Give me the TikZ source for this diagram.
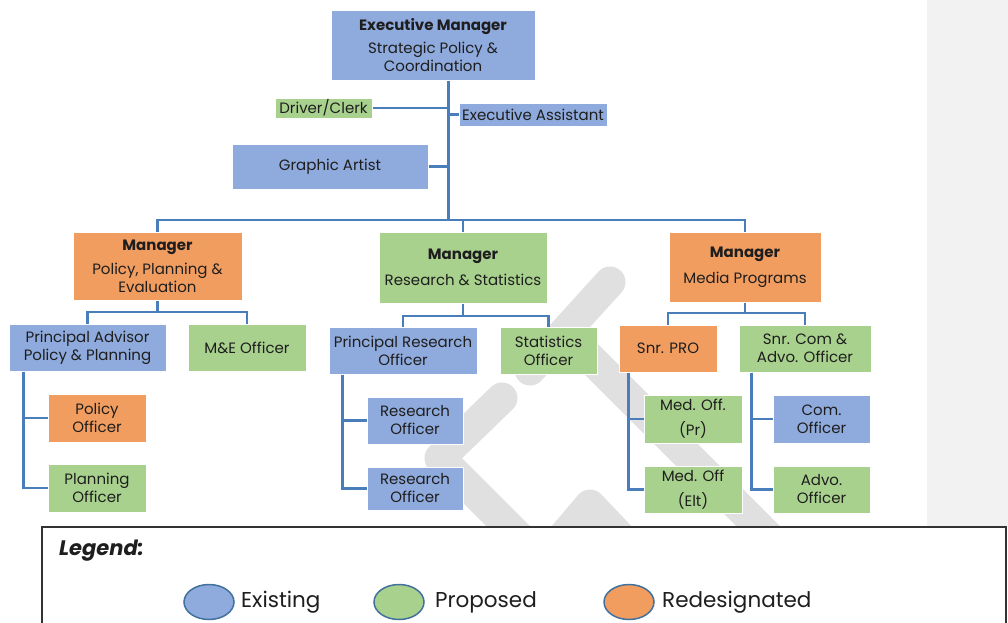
\documentclass[tikz,border=0pt]{standalone}
\usepackage{fontspec}
\setmainfont{Poppins}
\usetikzlibrary{shapes.geometric}

\definecolor{exist}{RGB}{143,170,220}
\definecolor{propo}{RGB}{169,209,142}
\definecolor{redes}{RGB}{241,157,96}
\definecolor{wireblue}{RGB}{74,126,187}
\definecolor{ink}{RGB}{30,30,30}
\definecolor{wmgrey}{RGB}{224,224,224}
\definecolor{panelgrey}{RGB}{242,242,242}
\definecolor{rim}{RGB}{65,113,156}

\tikzset{
  orgbox/.style={draw=white, line width=1pt, inner sep=0pt, align=center,
    text=ink, font=\fontsize{15}{18}\selectfont},
  wire/.style={draw=wireblue, line width=2.5pt},
  trunkline/.style={draw=wireblue, line width=3pt},
  wmark/.style={draw=wmgrey, line width=31pt, line cap=round, line join=round},
  keyblob/.style={ellipse, draw=rim, line width=1.5pt, minimum width=50pt,
    minimum height=35pt, inner sep=0pt},
  keytext/.style={font=\fontsize{21.5}{26}\selectfont, text=ink, anchor=west, inner sep=0pt},
}

% box from its corners: name, x1, y1, x2, y2, fill, text
\newcommand\orgnode[7]{%
  \node[orgbox, fill=#6, minimum width={#4-#2}, minimum height={#5-#3}]
    (#1) at ({(#2+#4)/2},{(#3+#5)/2}) {#7};}

\begin{document}
\begin{tikzpicture}[x=1pt,y=-1pt]
\useasboundingbox (0,0) rectangle (1008,622);
\clip (0,0) rectangle (1008,622);

% side panel
\fill[panelgrey] (927,0) rectangle (1008,527);

% faint background logo
\draw[wmark] (610,282) -- (530,370);
\draw[wmark] (572,340) -- (800,568);
\draw[wmark] (502,398) -- (440,458) -- (528,546);
\draw[wmark] (556,545) -- (590,505) -- (628,545);

% top level
\orgnode{exec}{331}{10}{535}{80}{exist}{\textbf{Executive Manager}\\[5pt]Strategic Policy \&\\Coordination}
\orgnode{driver}{275}{98}{372}{118}{propo}{Driver/Clerk}
\orgnode{ea}{459}{103}{607}{126}{exist}{Executive Assistant}
\orgnode{ga}{232}{144}{428}{189}{exist}{Graphic Artist}

% managers
\orgnode{mgrA}{73}{232}{242}{300}{redes}{\textbf{Manager}\\[6pt]Policy, Planning \&\\Evaluation}
\orgnode{mgrB}{379}{232}{547}{303}{propo}{\textbf{Manager}\\[8pt]Research \& Statistics}
\orgnode{mgrC}{669}{232}{821}{302}{redes}{\textbf{Manager}\\[8pt]Media Programs}

% policy, planning & evaluation
\orgnode{pa}{9}{324}{166}{371}{exist}{Principal Advisor\\Policy \& Planning}
\orgnode{me}{188}{324}{306}{371}{propo}{M\&E Officer}
\orgnode{po}{48}{394}{146}{442}{redes}{Policy\\Officer}
\orgnode{plo}{48}{464}{146}{512}{propo}{Planning\\Officer}

% research & statistics
\orgnode{pro}{329}{327}{477}{374}{exist}{Principal Research\\Officer}
\orgnode{stat}{500}{327}{597}{374}{propo}{Statistics\\Officer}
\orgnode{ro1}{367}{397}{463}{444}{exist}{Research\\Officer}
\orgnode{ro2}{367}{467}{463}{510}{exist}{Research\\Officer}

% media programs
\orgnode{spro}{619}{325}{717}{372}{redes}{Snr. PRO}
\orgnode{scom}{739}{325}{871}{372}{propo}{Snr. Com \&\\Advo. Officer}
\orgnode{mpr}{644}{395}{742}{443}{propo}{Med. Off.\\[7pt](Pr)}
\orgnode{melt}{644}{466}{742}{513}{propo}{Med. Off\\[7pt](Elt)}
\orgnode{com}{773}{395}{870}{443}{exist}{Com.\\Officer}
\orgnode{advo}{773}{466}{870}{513}{propo}{Advo.\\Officer}

% reporting lines from the executive
\coordinate (trunk) at (448,220);
\draw[trunkline] ([xshift=15pt]exec.south) -- (trunk);
\draw[wire] (mgrA.north) |- (trunk) -| (mgrC.north);
\draw[wire] (mgrB.north) -- (mgrB.north |- trunk);
\draw[wire] (driver.east) -- (driver.east -| trunk);
\draw[wire] (ea.west) -- (ea.west -| trunk);
\draw[wire] (ga.east) -- (ga.east -| trunk);

% manager to section heads
\coordinate (jA) at (157.5,312);
\draw[wire] (mgrA.south) -- (jA);
\draw[wire] (pa.north) |- (jA) -| (me.north);
\coordinate (jB) at (463,316);
\draw[wire] (mgrB.south) -- (jB);
\draw[wire] (pro.north) |- (jB) -| (stat.north);
\coordinate (jC) at (745,313);
\draw[wire] (mgrC.south) -- (jC);
\draw[wire] (spro.north) |- (jC) -| (scom.north);

% section heads to officers
\draw[wire] ([xshift=15pt]pa.south west) |- (po.west);
\draw[wire] ([xshift=15pt]pa.south west) |- (plo.west);
\draw[wire] ([xshift=14pt]pro.south west) |- (ro1.west);
\draw[wire] ([xshift=14pt]pro.south west) |- (ro2.west);
\draw[wire] ([xshift=10pt]spro.south west) |- (mpr.west);
\draw[wire] ([xshift=10pt]spro.south west) |- (melt.west);
\draw[wire] ([xshift=13pt]scom.south west) |- (com.west);
\draw[wire] ([xshift=13pt]scom.south west) |- (advo.west);

% legend
\draw[draw=black!80, line width=1.5pt, fill=white] (42,527) rectangle (1006,660);
\node[font=\fontsize{21}{24}\selectfont\bfseries\itshape, text=ink, anchor=west, inner sep=0pt]
  (legtitle) at (59,551) {Legend:};
\node[keyblob, fill=exist] (kexist) at (209,602) {};
\node[keytext] (texist) at (241,602) {Existing};
\node[keyblob, fill=propo] (kpropo) at (399,602) {};
\node[keytext] (tpropo) at (435,602) {Proposed};
\node[keyblob, fill=redes] (kredes) at (629,602) {};
\node[keytext] (tredes) at (662,602) {Redesignated};
\end{tikzpicture}
\end{document}
